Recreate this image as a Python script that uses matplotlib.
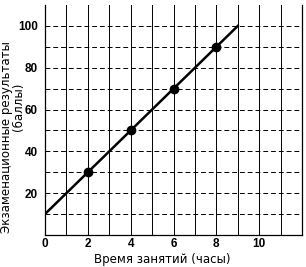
import matplotlib
matplotlib.use('Agg')
import matplotlib.pyplot as plt

plt.rcParams['font.family'] = ['Liberation Sans', 'DejaVu Sans']

## Data
hours_line = [0, 9]
score_line = [10, 100]
hours_pts = [2, 4, 6, 8]
score_pts = [30, 50, 70, 90]
x_ticks = [0, 2, 4, 6, 8, 10]
y_ticks = [20, 40, 60, 80, 100]

fig = plt.figure(figsize=(3.06, 2.67), dpi=100)
ax = fig.add_axes([0.147, 0.12, 0.84, 0.861])

## grid: solid verticals, dashed horizontals
for x in range(1, 12):
    ax.axvline(x, color='black', lw=0.7, zorder=1)
for y in range(10, 110, 10):
    ax.axhline(y, color='black', lw=0.7, ls=(0, (5, 3)), zorder=1)

ax.plot(hours_line, score_line, color='black', lw=1.8, zorder=3)
ax.plot(hours_pts, score_pts, 'o', color='black', ms=6, zorder=4)

ax.set_xlim(0, 12)
ax.set_ylim(0, 110)
ax.set_xticks(x_ticks)
ax.set_yticks(y_ticks)
ax.tick_params(axis='y', length=0, labelsize=8.5, pad=5)
ax.tick_params(axis='x', length=0, labelsize=8.5, pad=2)
for lab in ax.get_xticklabels() + ax.get_yticklabels():
    lab.set_fontweight('bold')

ax.spines['top'].set_visible(False)
ax.spines['bottom'].set_linestyle((0, (2, 1)))
for s in ax.spines.values():
    s.set_linewidth(0.9)

## axis titles placed by hand, the y title is two lines of different centre
fig.text(162 / 306, 1 - 259 / 267, 'Время занятий (часы)', family='DejaVu Sans',
         fontsize=8.5, ha='center', va='center')
fig.text(7 / 306, 1 - 137 / 267, 'Экзаменационные результаты', family='DejaVu Sans',
         fontsize=8.5, rotation=90, ha='center', va='center')
fig.text(19 / 306, 1 - 107 / 267, '(баллы)', family='DejaVu Sans',
         fontsize=8.5, rotation=90, ha='center', va='center')

fig.savefig('out.png', dpi=100)
